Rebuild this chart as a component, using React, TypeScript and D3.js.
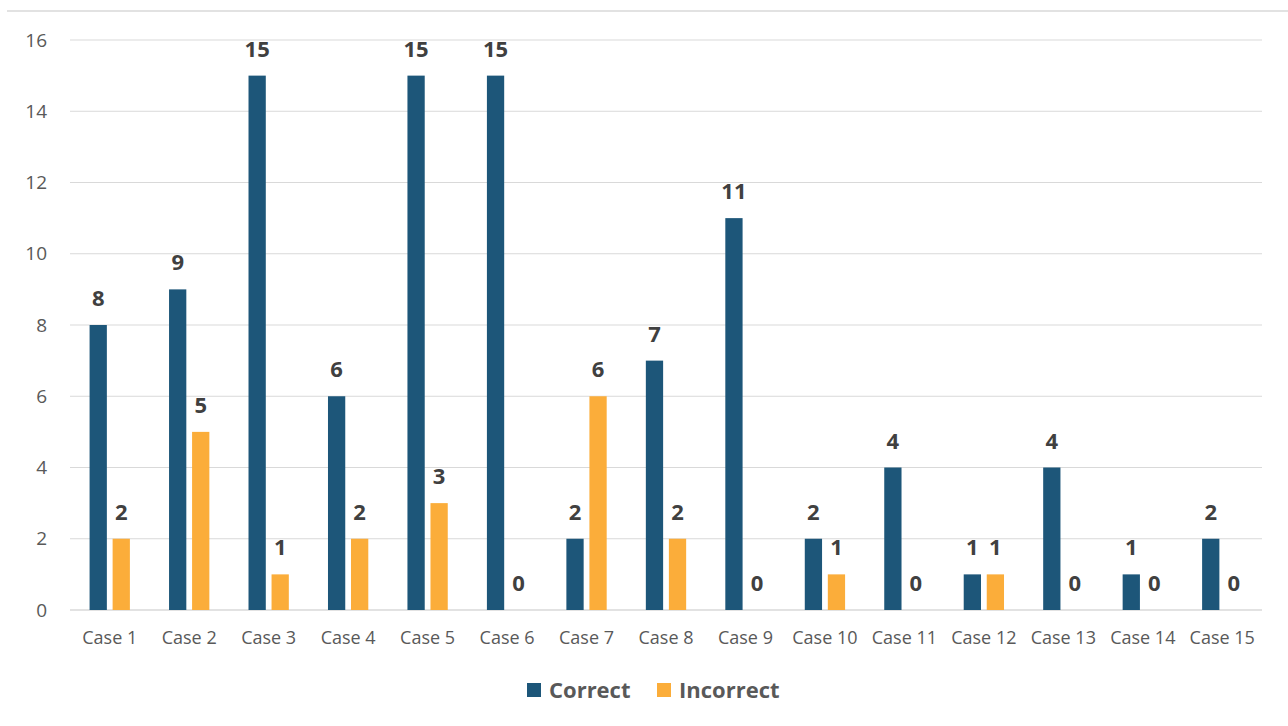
import React from "react";
import * as d3 from "d3";

const categories = ["Case 1","Case 2","Case 3","Case 4","Case 5","Case 6","Case 7","Case 8","Case 9","Case 10","Case 11","Case 12","Case 13","Case 14","Case 15"];
const correct = [8,9,15,6,15,15,2,7,11,2,4,1,4,1,2];
const incorrect = [2,5,1,2,3,0,6,2,0,1,0,1,0,0,0];
const seriesNames = ["Correct","Incorrect"];
const yTicks = [0,2,4,6,8,10,12,14,16];

const W = 1288, H = 726;
const left = 70, right = 1262, top = 40, bottom = 610;
const colors = ["#1d5679", "#fbad3a"];
const font = "'Open Sans', 'Liberation Sans', sans-serif";

export default function App() {
  const x = d3.scaleBand<string>().domain(categories).range([left, right]).paddingInner(0).paddingOuter(0);
  const x1 = d3.scaleBand<string>().domain(seriesNames).range([0, x.bandwidth()]).paddingInner(0.25).paddingOuter(0.85);
  const y = d3.scaleLinear().domain([0, 16]).range([bottom, top]);
  const series = [correct, incorrect];

  return (
    <svg width={W} height={H} style={{ position: "absolute", left: 0, top: 0, background: "#fff" }}>
      <line x1={7} x2={W} y1={11} y2={11} stroke="#d9d9d9" strokeWidth={1.5} />
      {yTicks.map(t => (
        <g key={t}>
          <line x1={left} x2={right} y1={y(t)} y2={y(t)} stroke="#d9d9d9" strokeWidth={t === 0 ? 1.5 : 1.2} />
          <text x={47} y={y(t)} dy="0.35em" textAnchor="end" fontFamily={font} fontSize={19} fill="#595959">{t}</text>
        </g>
      ))}
      {categories.map((c, i) => (
        <g key={c}>
          {series.map((vals, s) => {
            const bx = (x(c) as number) + (x1(seriesNames[s]) as number);
            const bw = x1.bandwidth();
            const v = vals[i];
            return (
              <g key={s}>
                {v > 0 && <rect x={bx} y={y(v)} width={bw} height={y(0) - y(v)} fill={colors[s]} />}
                <text x={bx + bw / 2} y={y(v) - 19} textAnchor="middle" fontFamily={font} fontWeight={700} fontSize={22} fill="#404040">{v}</text>
              </g>
            );
          })}
          <text x={(x(c) as number) + x.bandwidth() / 2} y={644} textAnchor="middle" fontFamily={font} fontSize={18} fill="#595959">{c}</text>
        </g>
      ))}
      {seriesNames.map((n, s) => {
        const lx = s === 0 ? 527 : 657;
        return (
          <g key={n}>
            <rect x={lx} y={683} width={14} height={14} fill={colors[s]} />
            <text x={lx + 22} y={698} fontFamily={font} fontWeight={700} fontSize={22} fill="#595959">{n}</text>
          </g>
        );
      })}
    </svg>
  );
}
